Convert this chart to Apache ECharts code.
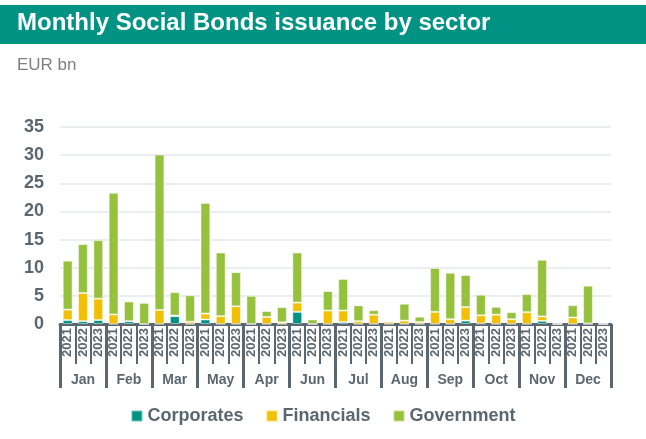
<!DOCTYPE html>
<html>
<head>
<meta charset="utf-8">
<script src="https://cdn.jsdelivr.net/npm/echarts@6/dist/echarts.min.js"></script>
<style>
  html, body { margin: 0; padding: 0; background: #fff; }
  #chart { width: 646px; height: 439px; }
</style>
</head>
<body>
<div id="chart"></div>
<script>
// month order as printed in the source chart
const months = ['Jan', 'Feb', 'Mar', 'May', 'Apr', 'Jun', 'Jul', 'Aug', 'Sep', 'Oct', 'Nov', 'Dec'];
const years = ['2021', '2022', '2023'];

// EUR bn, 36 values: each month x 2021/2022/2023
const corporates = [
    0.7, 0.5, 0.7,   0, 0.5, 0,     0, 1.4, 0,     0.8, 0, 0,
    0, 0, 0,         2.15, 0, 0,    0.35, 0, 0,    0, 0, 0,
    0, 0, 0.6,       0.1, 0, 0,     0, 0.55, 0,    0, 0, 0
];
const financials = [
    1.85, 5.0, 3.8,  1.7, 0, 0,     2.5, 0.1, 0.4, 1.05, 1.4, 3.15,
    0, 1.25, 0.3,    1.65, 0, 2.4,  2.05, 0.5, 1.65, 0.4, 0.6, 0.35,
    2.15, 0.85, 2.4, 1.45, 1.65, 0.85, 2.1, 0.8, 0, 1.15, 0.1, 0
];
const government = [
    8.7, 8.7, 10.4,  21.6, 3.5, 3.75, 27.6, 4.15, 4.7, 19.65, 11.3, 6.05,
    5.0, 1.05, 2.7,  8.9, 0.8, 3.45,  5.6, 2.8, 0.8,  0.1, 3.0, 0.95,
    7.8, 8.25, 5.7,  3.65, 1.4, 1.25, 3.2, 10.05, 0,  2.2, 6.7, 0
];

const yTicks = { min: 0, max: 35, interval: 5 };

const AXIS_COLOR = '#5b6770';
const FONT = 'Liberation Sans, Arial, sans-serif';

const yearCategories = [];
months.forEach(() => years.forEach(y => yearCategories.push(y)));

function barSerie(name, data, color) {
    return {
        name: name,
        type: 'bar',
        stack: 'total',
        data: data,
        barWidth: '64%',
        itemStyle: {
            color: color,
            borderColor: 'rgba(255,255,255,0.45)',
            borderWidth: 1,
        },
        emphasis: { disabled: true },
    };
}

const chart = echarts.init(document.getElementById('chart'), null, { renderer: 'canvas' });
chart.setOption({
    animation: false,
    textStyle: { fontFamily: FONT },
    graphic: [
        {
            type: 'rect',
            shape: { x: 0, y: 5, width: 646, height: 39 },
            style: { fill: '#009384' },
            z: 0,
        },
        {
            type: 'text',
            left: 17,
            top: 11,
            style: { text: 'Monthly Social Bonds issuance by sector', fill: '#fff', font: 'bold 24px ' + FONT },
            z: 1,
        },
        {
            type: 'text',
            left: 17,
            top: 57,
            style: { text: 'EUR bn', fill: '#7f7f7f', font: '17px ' + FONT },
        },
    ],
    legend: {
        bottom: 9,
        left: 'center',
        itemWidth: 11,
        itemHeight: 11,
        itemGap: 22,
        icon: 'rect',
        textStyle: { color: AXIS_COLOR, fontSize: 18, fontWeight: 'bold', fontFamily: FONT },
        data: ['Corporates', 'Financials', 'Government'],
    },
    grid: { left: 60, right: 35, top: 127, bottom: 115 },
    xAxis: [
        {
            type: 'category',
            data: yearCategories,
            position: 'bottom',
            axisLine: { show: true, lineStyle: { color: AXIS_COLOR, width: 3 } },
            axisTick: { show: true, interval: 0, length: 40, lineStyle: { color: AXIS_COLOR, width: 2 } },
            axisLabel: {
                interval: 0,
                rotate: 90,
                margin: 4,
                color: AXIS_COLOR,
                fontSize: 13,
                fontWeight: 'bold',
                fontFamily: FONT,
            },
        },
        {
            type: 'category',
            data: months,
            position: 'bottom',
            axisLine: { show: false },
            axisTick: { show: true, interval: 0, length: 64, lineStyle: { color: AXIS_COLOR, width: 3 } },
            axisLabel: {
                interval: 0,
                margin: 49,
                color: AXIS_COLOR,
                fontSize: 14,
                fontWeight: 'bold',
                fontFamily: FONT,
            },
        },
    ],
    yAxis: {
        type: 'value',
        min: yTicks.min,
        max: yTicks.max,
        interval: yTicks.interval,
        axisLine: { show: false },
        axisTick: { show: false },
        axisLabel: { color: AXIS_COLOR, fontSize: 18, fontWeight: 'bold', margin: 16, fontFamily: FONT },
        splitLine: { lineStyle: { color: '#e4e8eb', width: 1.5 } },
    },
    series: [
        barSerie('Corporates', corporates, '#009384'),
        barSerie('Financials', financials, '#f2c000'),
        barSerie('Government', government, '#95c13d'),
    ],
});
</script>
</body>
</html>
